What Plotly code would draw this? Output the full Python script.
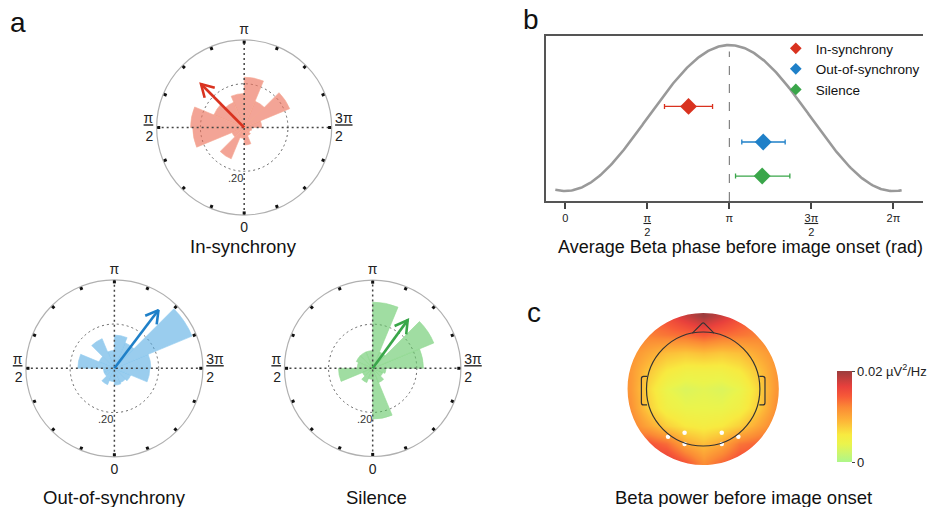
import numpy as np
import plotly.graph_objects as go

W, H = 928, 507
FONT = "Liberation Sans, Arial, sans-serif"

# ---------------- data ----------------
conditions = ["In-synchrony", "Out-of-synchrony", "Silence"]
cond_colors = ["#d9321f", "#1f80c8", "#3aa64a"]
bar_fill = ["rgba(236,112,90,0.64)", "rgba(86,172,226,0.6)", "rgba(96,198,100,0.6)"]
bar_edge = ["rgba(246,170,150,0.9)", "rgba(150,205,240,0.9)", "rgba(150,220,150,0.9)"]

# rose histograms: 16 phase bins (degrees, 0 = bottom, pi = top)
bin_centers = [11.25, 33.75, 56.25, 78.75, 101.25, 123.75, 146.25, 168.75,
               191.25, 213.75, 236.25, 258.75, 281.25, 303.75, 326.25, 348.75]
bin_width = 22.5
insync_prop = [0.05, 0.155, 0.06, 0.235, 0.245, 0.15, 0.125, 0.155,
               0.23, 0.13, 0.225, 0.08, 0.035, 0.03, 0.04, 0.08]
outsync_prop = [0.06, 0.08, 0.05, 0.05, 0.165, 0.075, 0.145, 0.08,
                0.15, 0.125, 0.38, 0.165, 0.16, 0.08, 0.07, 0.076]
silence_prop = [0.05, 0.07, 0.05, 0.155, 0.07, 0.08, 0.08, 0.08,
                0.30, 0.08, 0.30, 0.23, 0.06, 0.05, 0.07, 0.23]
rose_props = [insync_prop, outsync_prop, silence_prop]

# mean phase (rad), 95% CI and resultant length
mean_phase = [2.36, 3.79, 3.77]
ci_low = [1.90, 3.38, 3.26]
ci_high = [2.82, 4.21, 4.30]
resultant = [0.28, 0.33, 0.27]
row_y = [0.58, 0.336, 0.103]

polar_tick_deg = [0, 22.5, 45, 67.5, 90, 112.5, 135, 157.5,
                  180, 202.5, 225, 247.5, 270, 292.5, 315, 337.5]
polar_tick_text = ["0", " ", " ", " ", "<u>π</u><br>2", " ", " ", " ",
                   "π", " ", " ", " ", "<u>3π</u><br>2", " ", " ", " "]

phase_tick_vals = [0, np.pi / 2, np.pi, 3 * np.pi / 2, 2 * np.pi]
phase_tick_text = ["0", "<u>π</u><br>2", "π", "<u>3π</u><br>2", "2π"]

# topography of beta power (x10^-3 uV^2/Hz), grid rows bottom -> top
topo_x = [-0.8, -0.64, -0.48, -0.32, -0.16, 0, 0.16, 0.32, 0.48, 0.64, 0.8]
topo_y = [-0.8, -0.64, -0.48, -0.32, -0.16, 0, 0.16, 0.32, 0.48, 0.64, 0.8]
topo_milli = [
    [15, 16, 17, 17.5, 16, 13, 15, 16, 16, 15, 14],
    [14, 15, 16.5, 17, 14.5, 11.5, 13.5, 15.5, 15.5, 14.5, 14],
    [13.5, 14, 15, 13.5, 10, 8.5, 10, 13, 14, 14, 13.5],
    [13, 12.5, 10, 7.5, 6, 5.5, 6, 7.5, 10, 12.5, 13],
    [12.5, 11.5, 7.5, 5, 4, 4, 4, 5, 7.5, 11.5, 12.5],
    [12, 11, 7, 4, 3, 3.5, 3, 4, 7, 11, 12],
    [12, 11, 8, 6, 5, 5, 5, 6, 8, 11, 12],
    [12.5, 11.5, 10, 8.5, 8, 8.5, 8, 8.5, 10, 11.5, 12.5],
    [13, 13, 12.5, 13, 13.5, 14.5, 13.5, 13, 12.5, 13, 13],
    [13, 13.5, 14, 15.5, 18, 20, 18, 15.5, 14, 13.5, 13],
    [13, 13.5, 14, 16, 19, 20, 19, 16, 14, 13.5, 13],
]
sel_elec_x = [-0.31, -0.164, -0.164, 0.164, 0.164, 0.31]
sel_elec_y = [-0.418, -0.383, -0.482, -0.383, -0.482, -0.418]

# ---------------- figure ----------------
fig = go.Figure()

def px_x(v):
    return v / W

def px_y(v):
    return 1 - v / H

# polar geometry (centre px, radius px)
polar_geo = [(245.5, 127.5, 88.0), (115.0, 368.3, 89.0), (374.7, 368.3, 88.7)]
polar_names = ["polar", "polar2", "polar3"]
DOT = "2px,3px"

for i, (cx, cy, rad) in enumerate(polar_geo):
    sp = polar_names[i]
    # dotted cross
    fig.add_trace(go.Scatterpolar(r=[0.4, 0, 0.4], theta=[0, 0, 180], mode="lines",
                                  line=dict(color="#444", width=1.5, dash=DOT),
                                  subplot=sp, showlegend=False, hoverinfo="skip"))
    fig.add_trace(go.Scatterpolar(r=[0.4, 0, 0.4], theta=[90, 90, 270], mode="lines",
                                  line=dict(color="#444", width=1.5, dash=DOT),
                                  subplot=sp, showlegend=False, hoverinfo="skip"))
    fig.add_trace(go.Barpolar(r=rose_props[i], theta=bin_centers,
                              width=[bin_width] * len(bin_centers),
                              marker=dict(color=bar_fill[i],
                                          line=dict(color=bar_edge[i], width=0.7)),
                              subplot=sp, showlegend=False))
    # mean vector arrow
    th = np.degrees(mean_phase[i])
    R = resultant[i]
    fig.add_trace(go.Scatterpolar(r=[0, R], theta=[th, th], mode="lines",
                                  line=dict(color=cond_colors[i], width=2.6),
                                  subplot=sp, showlegend=False))
    t = np.radians(th)
    tip = np.array([R * np.cos(t), R * np.sin(t)])
    back = -tip / np.linalg.norm(tip)
    hr, ht = [], []
    for a in (np.radians(30), 0.0, -np.radians(30)):
        if a == 0.0:
            hr.append(R); ht.append(th); continue
        rot = np.array([back[0] * np.cos(a) - back[1] * np.sin(a),
                        back[0] * np.sin(a) + back[1] * np.cos(a)])
        p = tip + 0.065 * rot
        hr.append(float(np.hypot(p[0], p[1])))
        ht.append(float(np.degrees(np.arctan2(p[1], p[0]))))
    fig.add_trace(go.Scatterpolar(r=hr, theta=ht, mode="lines",
                                  line=dict(color=cond_colors[i], width=2.6),
                                  subplot=sp, showlegend=False))

polar_layouts = {}
for i, (cx, cy, rad) in enumerate(polar_geo):
    polar_layouts[polar_names[i]] = dict(
        domain=dict(x=[px_x(cx - rad), px_x(cx + rad)], y=[px_y(cy + rad), px_y(cy - rad)]),
        bgcolor="white",
        angularaxis=dict(rotation=270, direction="clockwise", tickmode="array",
                         tickvals=polar_tick_deg, ticktext=polar_tick_text,
                         ticks="inside", ticklen=3, tickwidth=2.5, tickcolor="#111",
                         showline=True, linecolor="#b0b0b0", linewidth=1.2,
                         showgrid=False,
                         tickfont=dict(size=14, color="#222", family=FONT)),
        radialaxis=dict(range=[0, 0.4], tickmode="array", tickvals=[0.2],
                        showticklabels=False, ticks="", showline=False,
                        showgrid=True, gridcolor="#666", griddash=DOT, gridwidth=1.4),
    )

# ---- panel b ----
xc = np.linspace(-0.19, 6.44, 300)
fig.add_trace(go.Scatter(x=xc, y=(1 - np.cos(xc)) / 2, mode="lines",
                         line=dict(color="#999", width=2.6), showlegend=False,
                         hoverinfo="skip", xaxis="x", yaxis="y"))
for i in range(3):
    fig.add_trace(go.Scatter(
        x=[mean_phase[i]], y=[row_y[i]], mode="markers", name=conditions[i],
        marker=dict(symbol="diamond", size=13, color=cond_colors[i]),
        error_x=dict(type="data", symmetric=False,
                     array=[ci_high[i] - mean_phase[i]],
                     arrayminus=[mean_phase[i] - ci_low[i]],
                     color=cond_colors[i], thickness=1.3, width=2.5),
        showlegend=False, xaxis="x", yaxis="y"))
# legend entries (smaller symbols)
for i in range(3):
    fig.add_trace(go.Scatter(x=[None], y=[None], mode="markers", name=conditions[i],
                             marker=dict(symbol="diamond", size=9, color=cond_colors[i]),
                             xaxis="x", yaxis="y"))

# ---- panel c ----
fig.add_trace(go.Heatmap(
    x=topo_x, y=topo_y, z=(np.array(topo_milli) / 1000.0).tolist(),
    zmin=0, zmax=0.02, zsmooth="best",
    colorscale=[[0, "#adf78a"], [0.1, "#cdf56c"], [0.2, "#ebf44c"], [0.3, "#f8ea40"],
                [0.45, "#fdb638"], [0.6, "#fb8a35"], [0.72, "#f75a38"],
                [0.83, "#e8403c"], [1, "#9c3d3d"]],
    colorbar=dict(x=px_x(842), xanchor="left", xpad=0, ypad=0, thickness=15,
                  len=91 / H, lenmode="fraction", y=px_y(416.5), yanchor="middle",
                  outlinewidth=0, ticks="outside", ticklen=3, tickcolor="#444",
                  tickmode="array", tickvals=[0, 0.02],
                  ticktext=["0", "0.02 µV<sup>2</sup>/Hz"],
                  tickfont=dict(size=13, color="#222", family=FONT)),
    xaxis="x2", yaxis="y2", hoverinfo="skip"))
fig.add_trace(go.Scatter(x=sel_elec_x, y=sel_elec_y, mode="markers",
                         marker=dict(color="white", size=4.5), showlegend=False,
                         xaxis="x2", yaxis="y2", hoverinfo="skip"))

Rd = 0.667
k = 0.5523 * Rd
mask_path = (f"M -1.1,-1.1 H 1.1 V 1.1 H -1.1 Z "
             f"M {Rd},0 C {Rd},{k} {k},{Rd} 0,{Rd} C {-k},{Rd} {-Rd},{k} {-Rd},0 "
             f"C {-Rd},{-k} {-k},{-Rd} 0,{-Rd} C {k},{-Rd} {Rd},{-k} {Rd},0 Z")
shapes = [
    dict(type="path", path=mask_path, xref="x2", yref="y2", fillcolor="white",
         fillrule="evenodd", line=dict(width=0)),
    dict(type="circle", xref="x2", yref="y2", x0=-0.5, y0=-0.5, x1=0.5, y1=0.5,
         line=dict(color="#333", width=1.2)),
    dict(type="path", xref="x2", yref="y2",
         path="M -0.095,0.49 L -0.01,0.575 Q 0,0.585 0.01,0.575 L 0.095,0.49",
         line=dict(color="#333", width=1.2)),
    dict(type="path", xref="x2", yref="y2",
         path="M -0.495,0.11 L -0.525,0.11 Q -0.545,0.11 -0.545,0.09 L -0.545,-0.12 "
              "Q -0.545,-0.14 -0.525,-0.14 L -0.495,-0.14",
         line=dict(color="#333", width=1.2)),
    dict(type="path", xref="x2", yref="y2",
         path="M 0.495,0.11 L 0.525,0.11 Q 0.545,0.11 0.545,0.09 L 0.545,-0.12 "
              "Q 0.545,-0.14 0.525,-0.14 L 0.495,-0.14",
         line=dict(color="#333", width=1.2)),
    # pi reference line in panel b
    dict(type="line", xref="x", yref="y", x0=np.pi, x1=np.pi, y0=-0.068, y1=0.955,
         line=dict(color="#777", width=1.1, dash="dash")),
]

def ann(text, x, y, size, color="#111"):
    return dict(text=text, x=px_x(x), y=px_y(y), xref="paper", yref="paper",
                showarrow=False, font=dict(size=size, color=color, family=FONT),
                xanchor="center", yanchor="middle")

annotations = [
    ann("a", 18, 22, 28),
    ann("b", 534, 20, 28),
    ann("c", 537, 312, 28),
    ann("In-synchrony", 245, 246, 18.5),
    ann("Out-of-synchrony", 115, 497, 18.5),
    ann("Silence", 379, 497, 18.5),
    ann("Average Beta phase before image onset (rad)", 745, 247, 18),
    ann("Beta power before image onset", 748, 497, 18.5),
]
for (cx, cy, rad) in polar_geo:
    annotations.append(ann(".20", cx - 8.5, cy + 50.5, 11, color="#333"))

x_lo = -19.3 / (165 / np.pi)
x_hi = (928 - 568.3) / (165 / np.pi)
HR = 0.95  # half range of topo axes
HS = HR * 114

fig.update_layout(
    width=W, height=H, margin=dict(l=0, r=0, t=0, b=0),
    paper_bgcolor="white", plot_bgcolor="white",
    font=dict(family=FONT, color="#222"),
    xaxis=dict(domain=[px_x(549), 1.0], range=[x_lo, x_hi], tickmode="array",
               tickvals=phase_tick_vals, ticktext=phase_tick_text,
               ticks="outside", ticklen=6, tickwidth=1.5, tickcolor="#444",
               showline=True, mirror=True, linecolor="#555", linewidth=1.5,
               showgrid=False, zeroline=False,
               tickfont=dict(size=11, color="#222", family=FONT)),
    yaxis=dict(domain=[px_y(201), px_y(36)], range=[-0.068, 1.062],
               showline=True, linecolor="#555", linewidth=1.5,
               showticklabels=False, ticks="", showgrid=False, zeroline=False),
    xaxis2=dict(domain=[px_x(707 - HS), px_x(707 + HS)], range=[-HR, HR],
                visible=False, anchor="y2"),
    yaxis2=dict(domain=[max(0.0, px_y(389 + HS)), px_y(389 - HS)], range=[-HR, HR],
                visible=False, anchor="x2"),
    legend=dict(x=px_x(780), y=px_y(33), xanchor="left", yanchor="top",
                bgcolor="rgba(0,0,0,0)", font=dict(size=13.5, color="#111", family=FONT),
                tracegroupgap=0, itemwidth=30),
    shapes=shapes,
    annotations=annotations,
    **polar_layouts,
)

fig.write_html("out.html")
